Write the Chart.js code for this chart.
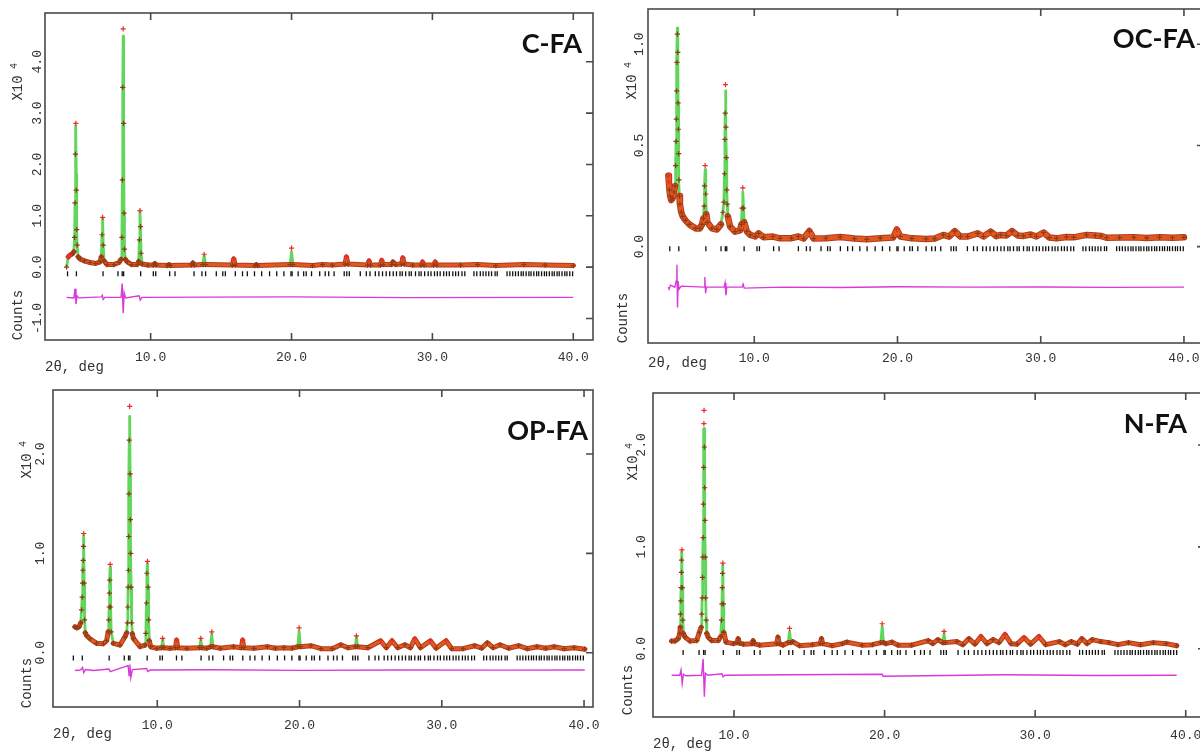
<!DOCTYPE html>
<html>
<head>
<meta charset="utf-8">
<title>Rietveld refinement plots</title>
<script src="https://cdn.jsdelivr.net/npm/chart.js@4.4.1/dist/chart.umd.min.js"></script>
<style>
html, body { margin: 0; padding: 0; background: #fff; width: 1200px; height: 753px; overflow: hidden; position: relative; }
canvas { position: absolute; }
</style>
</head>
<body>
<canvas id="cfa" width="600" height="378" style="left:0;top:0"></canvas>
<canvas id="ocfa" width="612" height="378" style="left:600px;top:0"></canvas>
<canvas id="opfa" width="600" height="375" style="left:0;top:378px"></canvas>
<canvas id="nfa" width="612" height="375" style="left:600px;top:378px"></canvas>
<script>
// shared axis ticks and reflection positions (2θ, deg)
const xTicks = [10, 20, 30, 40];
const reflections = [4.10, 4.73, 6.62, 7.68, 7.98, 8.08, 9.29, 10.19, 10.36, 11.35, 11.73, 13.08, 13.64, 13.90,
  14.66, 15.12, 15.30, 16.01, 16.52, 16.86, 17.37, 17.88, 18.44, 18.95, 19.46, 19.96, 20.04, 20.47, 20.86,
  21.04, 21.42, 22.00, 22.39, 22.64, 23.02, 23.74, 23.92, 24.10, 24.88, 25.31, 25.57, 25.95, 26.20, 26.46,
  26.72, 26.97, 27.22, 27.45, 27.70, 27.86, 28.10, 28.35, 28.50, 28.80, 29.05, 29.20, 29.45, 29.70, 29.90,
  30.15, 30.35, 30.55, 30.80, 31.00, 31.20, 31.45, 31.65, 31.85, 32.10, 32.30, 32.95, 33.15, 33.40, 33.60,
  33.80, 34.00, 34.20, 34.45, 34.60, 35.30, 35.50, 35.70, 35.90, 36.10, 36.30, 36.45, 36.65, 36.85, 37.00,
  37.20, 37.40, 37.55, 37.75, 37.95, 38.10, 38.30, 38.50, 38.65, 38.85, 39.00, 39.20, 39.40, 39.55, 39.75, 39.95];

// C-FA (counts x10^4)
const cfaAngle = [
  4.03, 4.15, 4.30, 4.45, 4.55, 4.60, 4.63, 4.66, 4.69, 4.72,
  4.75, 4.78, 4.85, 5.00, 5.30, 5.70, 6.10, 6.40, 6.50, 6.55,
  6.59, 6.63, 6.70, 6.90, 7.40, 7.75, 7.90, 7.96, 7.99, 8.02,
  8.05, 8.08, 8.11, 8.14, 8.20, 8.35, 8.65, 9.05, 9.15, 9.20,
  9.24, 9.28, 9.32, 9.40, 9.80, 10.20, 10.30, 10.40, 11.20, 11.30,
  11.40, 12.90, 13.00, 13.10, 13.70, 13.80, 13.90, 15.80, 15.90, 16.00,
  17.40, 17.50, 17.60, 19.90, 20.00, 20.10, 21.50, 22.20, 22.90, 23.80,
  23.90, 24.00, 25.40, 25.50, 25.60, 26.30, 26.40, 26.50, 27.10, 27.20,
  27.40, 27.80, 27.90, 28.00, 28.60, 29.20, 29.30, 29.40, 30.10, 30.20,
  30.30, 32.00, 33.20, 34.50, 36.50, 38.00, 40.00];
const cfaObs = [
  0.00, 0.20, 0.24, 0.26, 0.30, 0.58, 1.25, 2.20, 2.80, 1.50,
  0.73, 0.43, 0.20, 0.16, 0.12, 0.09, 0.07, 0.10, 0.20, 0.63,
  0.97, 0.43, 0.12, 0.05, 0.05, 0.09, 0.15, 0.58, 1.70, 3.50,
  4.64, 2.80, 1.05, 0.35, 0.15, 0.10, 0.05, 0.05, 0.11, 0.53,
  1.10, 0.79, 0.27, 0.06, 0.04, 0.04, 0.07, 0.04, 0.03, 0.05,
  0.03, 0.04, 0.08, 0.04, 0.05, 0.25, 0.05, 0.04, 0.16, 0.04,
  0.03, 0.05, 0.03, 0.05, 0.37, 0.05, 0.03, 0.05, 0.04, 0.06,
  0.20, 0.06, 0.04, 0.12, 0.04, 0.04, 0.13, 0.05, 0.05, 0.10,
  0.05, 0.06, 0.18, 0.06, 0.04, 0.04, 0.10, 0.04, 0.04, 0.10,
  0.04, 0.04, 0.05, 0.03, 0.05, 0.04, 0.03];
const cfaCalc = [
  0.00, 0.19, 0.23, 0.26, 0.30, 0.58, 1.25, 2.20, 2.75, 1.80,
  0.73, 0.43, 0.20, 0.16, 0.12, 0.09, 0.07, 0.10, 0.20, 0.63,
  0.95, 0.43, 0.12, 0.05, 0.05, 0.09, 0.15, 0.58, 1.70, 3.50,
  4.50, 2.80, 1.05, 0.35, 0.15, 0.10, 0.05, 0.05, 0.11, 0.53,
  1.08, 0.79, 0.27, 0.06, 0.04, 0.04, 0.07, 0.04, 0.03, 0.05,
  0.03, 0.04, 0.08, 0.04, 0.05, 0.22, 0.05, 0.04, 0.14, 0.04,
  0.03, 0.05, 0.03, 0.05, 0.30, 0.05, 0.03, 0.05, 0.04, 0.06,
  0.18, 0.06, 0.04, 0.11, 0.04, 0.04, 0.12, 0.05, 0.05, 0.10,
  0.05, 0.06, 0.16, 0.06, 0.04, 0.04, 0.09, 0.04, 0.04, 0.09,
  0.04, 0.04, 0.05, 0.03, 0.05, 0.04, 0.03];
const cfaDiffAngle = [4.03, 4.55, 4.63, 4.70, 4.77, 4.90, 6.50, 6.57, 6.63, 6.75,
  7.90, 7.98, 8.05, 8.12, 8.22, 9.18, 9.26, 9.38, 14.0, 20.0, 28.0, 40.0];
const cfaDiff = [-0.59, -0.60, -0.42, -0.72, -0.56, -0.60, -0.58, -0.55, -0.63, -0.59,
  -0.59, -0.32, -0.90, -0.50, -0.60, -0.56, -0.64, -0.59, -0.585, -0.58, -0.595, -0.59];
const cfaYTicks = [-1, 0, 1, 2, 3, 4];
const cfaTickLevel = -0.13;

// OC-FA
const ocfaAngle = [
  4.00, 4.04, 4.08, 4.13, 4.20, 4.30, 4.40, 4.47, 4.51, 4.54,
  4.56, 4.58, 4.60, 4.63, 4.66, 4.68, 4.70, 4.72, 4.74, 4.77,
  4.81, 4.90, 5.00, 5.20, 5.46, 5.92, 6.20, 6.35, 6.45, 6.50,
  6.53, 6.57, 6.61, 6.65, 6.73, 7.04, 7.39, 7.67, 7.81, 7.88,
  7.92, 7.95, 7.97, 7.99, 8.02, 8.05, 8.08, 8.11, 8.15, 8.31,
  8.66, 9.00, 9.10, 9.15, 9.20, 9.25, 9.30, 9.48, 9.72, 10.07,
  10.30, 10.65, 11.30, 11.80, 12.60, 13.08, 13.45, 13.85, 14.15, 15.00,
  16.00, 17.00, 17.85, 18.80, 19.70, 19.95, 20.20, 21.00, 22.00, 22.60,
  23.20, 23.60, 24.00, 24.40, 24.90, 25.60, 26.00, 26.50, 26.90, 27.20,
  27.60, 28.00, 28.40, 28.80, 29.30, 29.70, 30.20, 30.60, 31.10, 31.80,
  32.30, 33.20, 33.80, 34.20, 34.60, 35.50, 36.50, 37.40, 38.30, 39.20,
  40.00];
const ocfaObs = [
  0.35, 0.32, 0.28, 0.25, 0.23, 0.24, 0.27, 0.30, 0.40, 0.52,
  0.63, 0.77, 0.91, 1.05, 0.96, 0.71, 0.58, 0.46, 0.33, 0.25,
  0.21, 0.17, 0.15, 0.13, 0.11, 0.09, 0.09, 0.11, 0.14, 0.20,
  0.30, 0.40, 0.26, 0.16, 0.12, 0.09, 0.085, 0.11, 0.17, 0.22,
  0.36, 0.53, 0.66, 0.80, 0.59, 0.44, 0.28, 0.21, 0.15, 0.10,
  0.074, 0.08, 0.11, 0.19, 0.29, 0.19, 0.12, 0.075, 0.058, 0.05,
  0.066, 0.046, 0.05, 0.041, 0.042, 0.05, 0.04, 0.077, 0.04, 0.042,
  0.048, 0.04, 0.036, 0.042, 0.045, 0.085, 0.05, 0.041, 0.038, 0.04,
  0.058, 0.05, 0.077, 0.05, 0.05, 0.066, 0.05, 0.074, 0.052, 0.058,
  0.055, 0.077, 0.055, 0.053, 0.06, 0.05, 0.07, 0.045, 0.041, 0.048,
  0.046, 0.058, 0.055, 0.053, 0.044, 0.045, 0.046, 0.043, 0.047, 0.044,
  0.046];
const ocfaCalc = [
  0.30, 0.30, 0.28, 0.25, 0.23, 0.24, 0.27, 0.30, 0.40, 0.52,
  0.63, 0.77, 0.91, 1.08, 0.96, 0.71, 0.58, 0.46, 0.33, 0.25,
  0.21, 0.17, 0.15, 0.13, 0.11, 0.09, 0.09, 0.11, 0.14, 0.20,
  0.30, 0.38, 0.26, 0.16, 0.12, 0.09, 0.085, 0.11, 0.17, 0.22,
  0.36, 0.53, 0.66, 0.77, 0.59, 0.44, 0.28, 0.21, 0.15, 0.10,
  0.074, 0.08, 0.11, 0.19, 0.27, 0.19, 0.12, 0.075, 0.058, 0.05,
  0.066, 0.046, 0.05, 0.041, 0.042, 0.05, 0.04, 0.077, 0.04, 0.042,
  0.048, 0.04, 0.036, 0.042, 0.045, 0.08, 0.05, 0.041, 0.038, 0.04,
  0.058, 0.05, 0.077, 0.05, 0.05, 0.066, 0.05, 0.074, 0.052, 0.058,
  0.055, 0.077, 0.055, 0.053, 0.06, 0.05, 0.07, 0.045, 0.041, 0.048,
  0.046, 0.058, 0.055, 0.053, 0.044, 0.045, 0.046, 0.043, 0.047, 0.044,
  0.046];
const ocfaDiffAngle = [4.00, 4.05, 4.15, 4.45, 4.55, 4.60, 4.64, 4.68, 4.75, 4.90,
  6.50, 6.55, 6.60, 6.66, 7.90, 7.96, 8.02, 8.08, 9.15, 9.22, 9.30, 12.0, 16.0, 20.0, 25.0, 30.0, 35.0, 40.0];
const ocfaDiff = [-0.20, -0.21, -0.19, -0.20, -0.17, -0.09, -0.30, -0.17, -0.21, -0.195,
  -0.20, -0.15, -0.23, -0.20, -0.20, -0.18, -0.24, -0.20, -0.20, -0.185, -0.205, -0.20, -0.202, -0.198, -0.20, -0.199, -0.201, -0.20];
const ocfaYTicks = [0, 0.5, 1.0];
const ocfaTickLevel = -0.01;

// OP-FA
const opfaAngle = [
  4.21, 4.35, 4.50, 4.62, 4.68, 4.72, 4.75, 4.77, 4.79, 4.81,
  4.83, 4.86, 4.89, 4.94, 5.05, 5.27, 5.74, 6.21, 6.44, 6.55,
  6.59, 6.62, 6.64, 6.66, 6.69, 6.72, 6.76, 6.91, 7.38, 7.73,
  7.85, 7.90, 7.93, 7.95, 7.97, 7.99, 8.01, 8.03, 8.06, 8.09,
  8.11, 8.13, 8.16, 8.20, 8.25, 8.32, 8.79, 9.14, 9.20, 9.24,
  9.27, 9.31, 9.35, 9.39, 9.44, 9.54, 9.96, 10.30, 10.38, 10.46,
  10.90, 11.28, 11.36, 11.44, 12.07, 12.98, 13.06, 13.14, 13.48, 13.75,
  13.83, 13.91, 14.43, 15.36, 15.92, 16.00, 16.08, 16.80, 17.74, 18.30,
  18.90, 19.50, 19.88, 19.97, 20.06, 20.80, 21.50, 22.30, 22.90, 23.40,
  23.92, 24.00, 24.08, 24.80, 25.70, 26.10, 26.50, 26.90, 27.40, 27.80,
  28.10, 28.50, 29.20, 29.60, 30.30, 30.70, 31.50, 32.30, 32.80, 33.20,
  33.60, 34.10, 34.70, 35.40, 36.00, 36.70, 37.30, 37.90, 38.60, 39.30,
  40.05];
const opfaObs = [
  0.26, 0.25, 0.26, 0.30, 0.43, 0.56, 0.70, 0.83, 0.93, 1.07,
  1.20, 0.70, 0.33, 0.20, 0.17, 0.14, 0.094, 0.09, 0.12, 0.21,
  0.33, 0.46, 0.60, 0.73, 0.89, 0.46, 0.21, 0.094, 0.077, 0.16,
  0.20, 0.30, 0.46, 0.66, 0.83, 1.17, 1.60, 2.14, 2.48, 1.80,
  1.34, 1.00, 0.66, 0.30, 0.19, 0.144, 0.06, 0.077, 0.195, 0.50,
  0.80, 0.92, 0.66, 0.33, 0.12, 0.06, 0.044, 0.05, 0.144, 0.05,
  0.044, 0.05, 0.127, 0.05, 0.044, 0.05, 0.144, 0.05, 0.044, 0.06,
  0.21, 0.06, 0.044, 0.06, 0.05, 0.127, 0.05, 0.044, 0.06, 0.045,
  0.05, 0.045, 0.06, 0.25, 0.06, 0.07, 0.04, 0.04, 0.08, 0.05,
  0.06, 0.17, 0.06, 0.05, 0.12, 0.05, 0.12, 0.05, 0.08, 0.05,
  0.14, 0.05, 0.12, 0.045, 0.12, 0.04, 0.04, 0.07, 0.045, 0.10,
  0.05, 0.08, 0.045, 0.07, 0.04, 0.06, 0.045, 0.06, 0.04, 0.05,
  0.035];
const opfaCalc = [
  0.26, 0.25, 0.26, 0.30, 0.43, 0.56, 0.70, 0.83, 0.93, 1.07,
  1.18, 0.70, 0.33, 0.20, 0.17, 0.14, 0.094, 0.09, 0.12, 0.21,
  0.33, 0.46, 0.60, 0.73, 0.86, 0.46, 0.21, 0.094, 0.077, 0.16,
  0.20, 0.30, 0.46, 0.66, 0.83, 1.17, 1.60, 2.14, 2.38, 1.80,
  1.34, 1.00, 0.66, 0.30, 0.19, 0.144, 0.06, 0.077, 0.195, 0.50,
  0.80, 0.90, 0.66, 0.33, 0.12, 0.06, 0.044, 0.05, 0.13, 0.05,
  0.044, 0.05, 0.12, 0.05, 0.044, 0.05, 0.13, 0.05, 0.044, 0.06,
  0.19, 0.06, 0.044, 0.06, 0.05, 0.12, 0.05, 0.044, 0.06, 0.045,
  0.05, 0.045, 0.06, 0.22, 0.06, 0.07, 0.04, 0.04, 0.08, 0.05,
  0.06, 0.16, 0.06, 0.05, 0.11, 0.05, 0.11, 0.05, 0.08, 0.05,
  0.13, 0.05, 0.11, 0.045, 0.11, 0.04, 0.04, 0.07, 0.045, 0.10,
  0.05, 0.08, 0.045, 0.07, 0.04, 0.06, 0.045, 0.06, 0.04, 0.05,
  0.035];
const opfaDiffAngle = [4.21, 4.60, 4.75, 4.83, 4.95, 5.50, 6.60, 6.70, 7.00, 7.95,
  8.02, 8.08, 8.14, 8.25, 9.25, 9.33, 9.50, 14.0, 20.0, 27.0, 34.0, 40.05];
const opfaDiff = [-0.18, -0.175, -0.15, -0.20, -0.17, -0.18, -0.165, -0.19, -0.175, -0.13,
  -0.23, -0.12, -0.25, -0.17, -0.16, -0.19, -0.175, -0.172, -0.178, -0.174, -0.176, -0.175];
const opfaYTicks = [0, 1, 2];
const opfaTickLevel = -0.053;

// N-FA
const nfaAngle = [
  5.86, 6.08, 6.30, 6.40, 6.43, 6.45, 6.47, 6.49, 6.51, 6.52,
  6.54, 6.57, 6.60, 6.64, 6.75, 7.08, 7.52, 7.70, 7.82, 7.86,
  7.89, 7.91, 7.93, 7.95, 7.97, 7.99, 8.00, 8.01, 8.03, 8.05,
  8.07, 8.09, 8.12, 8.15, 8.19, 8.30, 8.52, 8.96, 9.12, 9.17,
  9.20, 9.22, 9.24, 9.26, 9.29, 9.32, 9.47, 9.95, 10.20, 10.28,
  10.36, 10.61, 11.20, 11.27, 11.34, 11.70, 12.84, 12.92, 13.00, 13.25,
  13.60, 13.69, 13.78, 13.90, 14.35, 15.20, 15.73, 15.81, 15.89, 16.50,
  17.20, 17.50, 18.50, 19.20, 19.75, 19.84, 19.93, 20.10, 20.50, 20.90,
  21.80, 22.90, 23.20, 23.55, 23.87, 23.95, 24.03, 24.80, 25.20, 25.60,
  26.00, 26.40, 26.80, 27.20, 27.60, 28.00, 28.40, 28.80, 29.26, 29.70,
  30.25, 30.70, 31.60, 32.00, 32.40, 32.80, 33.10, 33.45, 33.80, 34.35,
  34.90, 35.50, 36.20, 37.00, 37.85, 38.70, 39.40];
const nfaObs = [
  0.075, 0.075, 0.10, 0.15, 0.21, 0.34, 0.47, 0.60, 0.75, 0.87,
  0.97, 0.60, 0.28, 0.15, 0.114, 0.075, 0.08, 0.16, 0.21, 0.34,
  0.50, 0.70, 0.90, 1.09, 1.42, 1.78, 2.21, 2.34, 1.98, 1.58,
  1.26, 0.90, 0.50, 0.28, 0.15, 0.11, 0.08, 0.08, 0.12, 0.28,
  0.44, 0.60, 0.74, 0.84, 0.44, 0.16, 0.065, 0.05, 0.06, 0.10,
  0.055, 0.045, 0.05, 0.08, 0.05, 0.035, 0.05, 0.114, 0.05, 0.035,
  0.06, 0.20, 0.06, 0.07, 0.03, 0.04, 0.05, 0.10, 0.05, 0.03,
  0.05, 0.065, 0.035, 0.04, 0.06, 0.245, 0.06, 0.05, 0.065, 0.035,
  0.035, 0.08, 0.05, 0.09, 0.06, 0.17, 0.06, 0.07, 0.04, 0.10,
  0.045, 0.12, 0.05, 0.09, 0.06, 0.14, 0.05, 0.045, 0.11, 0.045,
  0.12, 0.04, 0.07, 0.04, 0.07, 0.045, 0.10, 0.05, 0.09, 0.07,
  0.06, 0.04, 0.06, 0.04, 0.06, 0.05, 0.03];
const nfaCalc = [
  0.075, 0.075, 0.10, 0.15, 0.21, 0.34, 0.47, 0.60, 0.75, 0.87,
  0.95, 0.60, 0.28, 0.15, 0.114, 0.075, 0.08, 0.16, 0.21, 0.34,
  0.50, 0.70, 0.90, 1.09, 1.42, 1.78, 2.16, 2.16, 1.98, 1.58,
  1.26, 0.90, 0.50, 0.28, 0.15, 0.11, 0.08, 0.08, 0.12, 0.28,
  0.44, 0.60, 0.74, 0.82, 0.44, 0.16, 0.065, 0.05, 0.06, 0.10,
  0.055, 0.045, 0.05, 0.08, 0.05, 0.035, 0.05, 0.11, 0.05, 0.035,
  0.06, 0.17, 0.06, 0.07, 0.03, 0.04, 0.05, 0.10, 0.05, 0.03,
  0.05, 0.065, 0.035, 0.04, 0.06, 0.22, 0.06, 0.05, 0.065, 0.035,
  0.035, 0.08, 0.05, 0.09, 0.06, 0.15, 0.06, 0.07, 0.04, 0.10,
  0.045, 0.11, 0.05, 0.09, 0.06, 0.13, 0.05, 0.045, 0.10, 0.045,
  0.11, 0.04, 0.07, 0.04, 0.07, 0.045, 0.10, 0.05, 0.09, 0.07,
  0.06, 0.04, 0.06, 0.04, 0.06, 0.05, 0.03];
const nfaDiffAngle = [5.86, 6.40, 6.48, 6.56, 6.64, 6.80, 7.85, 7.95, 8.03, 8.10,
  8.25, 9.20, 9.28, 9.40, 13.70, 19.84, 19.90, 24.0, 28.0, 34.0, 39.40];
const nfaDiff = [-0.26, -0.26, -0.21, -0.34, -0.25, -0.265, -0.26, -0.10, -0.47, -0.24,
  -0.26, -0.245, -0.275, -0.26, -0.255, -0.25, -0.27, -0.262, -0.255, -0.262, -0.26];
const nfaYTicks = [0, 1, 2];
const nfaTickLevel = -0.036;

function pairs(xs, ys) {
  return xs.map((x, i) => ({ x: x, y: ys[i] }));
}

// hide the thick obs band on steep peak flanks so the green fit shows there
function isSteep(ctx) {
  const dx = Math.abs(ctx.p1.x - ctx.p0.x);
  const dy = Math.abs(ctx.p1.y - ctx.p0.y);
  return dy > 9 && dy > 5 * dx;
}

function rotatedText(ctx, text, x, y) {
  ctx.save();
  ctx.translate(x, y);
  ctx.rotate(-Math.PI / 2);
  ctx.fillText(text, 0, 0);
  ctx.restore();
}

// frame, inward ticks, rotated y labels, sample name
const frameAndText = {
  id: 'frameAndText',
  afterDraw(chart, args, o) {
    const { ctx, chartArea: a } = chart;
    const x = chart.scales.x, y = chart.scales.y;
    ctx.save();
    ctx.strokeStyle = '#4a4a4a';
    ctx.lineWidth = 1.6;
    ctx.strokeRect(a.left, a.top, a.width, a.height);
    ctx.beginPath();
    x.ticks.forEach(t => {
      const px = x.getPixelForValue(t.value);
      ctx.moveTo(px, a.top); ctx.lineTo(px, a.top + 7);
      ctx.moveTo(px, a.bottom); ctx.lineTo(px, a.bottom - 7);
    });
    y.ticks.forEach(t => {
      const py = y.getPixelForValue(t.value);
      ctx.moveTo(a.right, py); ctx.lineTo(a.right - 7, py);
    });
    ctx.stroke();

    ctx.fillStyle = '#333';
    ctx.textAlign = 'center';
    ctx.textBaseline = 'middle';
    ctx.font = '13px "Liberation Mono"';
    y.ticks.forEach(t => {
      rotatedText(ctx, t.value.toFixed(1), a.left - o.labelGap, y.getPixelForValue(t.value));
    });
    ctx.font = '14px "Liberation Mono"';
    rotatedText(ctx, 'Counts', a.left - o.countsDx, a.bottom - o.countsDy);
    rotatedText(ctx, 'X10', a.left - o.scaleDx, a.top + o.scaleDy);
    ctx.font = '10px "Liberation Mono"';
    rotatedText(ctx, '4', a.left - o.scaleDx - 4, a.top + o.scaleDy - 22);

    ctx.fillStyle = '#111';
    ctx.textAlign = 'right';
    ctx.textBaseline = 'alphabetic';
    ctx.font = 'bold 27px Lato';
    ctx.fillText(o.name, a.right - o.nameDx, a.top + o.nameDy);
    ctx.restore();
  }
};

function drawPanel(id, d, look) {
  const first = d.angle[0];
  const last = d.angle[d.angle.length - 1];
  const refl = reflections
    .filter(r => r >= first - 0.15 && r <= last + 0.05)
    .map(r => ({ x: r, y: d.tickLevel }));
  const crossColor = c => (d.obs[c.dataIndex] - d.calc[c.dataIndex] > 0.005 ? '#ec2a2a' : '#8e3a18');
  const hideSteep = { borderColor: c => (isSteep(c) ? 'rgba(0,0,0,0)' : undefined) };

  new Chart(document.getElementById(id), {
    type: 'line',
    data: {
      datasets: [
        {
          label: 'Obs',
          data: pairs(d.angle, d.obs),
          borderColor: '#e2591f',
          borderWidth: look.band - 2,
          borderJoinStyle: 'round',
          borderCapStyle: 'round',
          segment: hideSteep,
          pointStyle: 'cross',
          pointRadius: 2.6,
          pointBorderWidth: 1.2,
          pointBorderColor: crossColor,
          fill: false
        },
        {
          label: 'Obs band',
          data: pairs(d.angle, d.obs),
          borderColor: '#b23a1b',
          borderWidth: look.band,
          borderJoinStyle: 'round',
          borderCapStyle: 'round',
          segment: hideSteep,
          pointRadius: 0,
          fill: false
        },
        {
          label: 'Calc',
          data: pairs(d.angle, d.calc),
          borderColor: '#62d65a',
          borderWidth: 2.8,
          borderJoinStyle: 'round',
          pointRadius: 0,
          fill: false
        },
        {
          label: 'Diff',
          data: pairs(d.diffAngle, d.diff),
          borderColor: '#d93ad9',
          borderWidth: 1.4,
          pointRadius: 0,
          fill: false
        },
        {
          label: 'Reflections',
          data: refl,
          showLine: false,
          pointStyle: 'line',
          pointRotation: 90,
          pointRadius: 2.5,
          pointBorderWidth: 1.3,
          pointBorderColor: '#111',
          borderColor: '#111'
        }
      ]
    },
    options: {
      responsive: false,
      animation: false,
      events: [],
      layout: { padding: { left: 0, top: look.top, right: look.right, bottom: 0 } },
      plugins: {
        legend: { display: false },
        tooltip: { enabled: false },
        frameAndText: look.text
      },
      scales: {
        x: {
          type: 'linear',
          min: look.xMin,
          max: look.xMax,
          grid: { display: false },
          border: { display: false },
          afterBuildTicks: s => { s.ticks = xTicks.map(v => ({ value: v })); },
          afterFit: s => { s.height = look.xH; s.paddingLeft = 0; s.paddingRight = 0; },
          ticks: {
            padding: look.labelPad,
            color: '#333',
            font: { family: 'Liberation Mono', size: 13 },
            callback: v => v.toFixed(1)
          },
          title: {
            display: true,
            text: '2θ, deg',
            align: 'start',
            color: '#333',
            font: { family: 'Liberation Mono', size: 14 },
            padding: { top: 0, bottom: look.titlePad }
          }
        },
        y: {
          type: 'linear',
          min: look.yMin,
          max: look.yMax,
          grid: { display: false },
          border: { display: false },
          ticks: { display: false },
          afterBuildTicks: s => { s.ticks = d.yTicks.map(v => ({ value: v })); },
          afterFit: s => { s.width = look.yW; s.paddingTop = 0; s.paddingBottom = 0; }
        }
      }
    },
    plugins: [frameAndText]
  });
}

drawPanel('cfa',
  { angle: cfaAngle, obs: cfaObs, calc: cfaCalc, diffAngle: cfaDiffAngle, diff: cfaDiff, yTicks: cfaYTicks, tickLevel: cfaTickLevel },
  { xMin: 2.5, xMax: 41.4, yMin: -1.42, yMax: 4.95, yW: 45, xH: 38, top: 13, right: 7, labelPad: 2, titlePad: 2, band: 5,
    text: { name: 'C-FA', nameDx: 11, nameDy: 40, labelGap: 7, countsDx: 27, countsDy: 25, scaleDx: 27, scaleDy: 75 } });

drawPanel('ocfa',
  { angle: ocfaAngle, obs: ocfaObs, calc: ocfaCalc, diffAngle: ocfaDiffAngle, diff: ocfaDiff, yTicks: ocfaYTicks, tickLevel: ocfaTickLevel },
  { xMin: 2.58, xMax: 41.4, yMin: -0.476, yMax: 1.174, yW: 48, xH: 35, top: 9, right: 8, labelPad: 0, titlePad: 6, band: 6.5,
    text: { name: 'OC-FA', nameDx: 9, nameDy: 39, labelGap: 8, countsDx: 25, countsDy: 25, scaleDx: 16, scaleDy: 78 } });

drawPanel('opfa',
  { angle: opfaAngle, obs: opfaObs, calc: opfaCalc, diffAngle: opfaDiffAngle, diff: opfaDiff, yTicks: opfaYTicks, tickLevel: opfaTickLevel },
  { xMin: 2.67, xMax: 40.63, yMin: -0.547, yMax: 2.645, yW: 53, xH: 46, top: 12, right: 7, labelPad: 3, titlePad: 10, band: 5,
    text: { name: 'OP-FA', nameDx: 5, nameDy: 50, labelGap: 12, countsDx: 26, countsDy: 24, scaleDx: 26, scaleDy: 76 } });

drawPanel('nfa',
  { angle: nfaAngle, obs: nfaObs, calc: nfaCalc, diffAngle: nfaDiffAngle, diff: nfaDiff, yTicks: nfaYTicks, tickLevel: nfaTickLevel },
  { xMin: 4.62, xMax: 41.28, yMin: -0.67, yMax: 2.51, yW: 53, xH: 36, top: 15, right: 7, labelPad: 3, titlePad: 0, band: 5,
    text: { name: 'N-FA', nameDx: 18, nameDy: 40, labelGap: 11, countsDx: 25, countsDy: 27, scaleDx: 20, scaleDy: 75 } });
</script>
</body>
</html>
